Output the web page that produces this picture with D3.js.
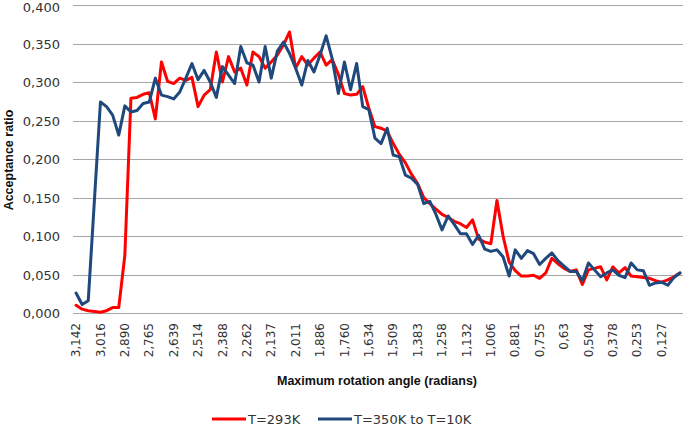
<!DOCTYPE html>
<html><head><meta charset="utf-8">
<script src="https://cdn.jsdelivr.net/npm/d3@7"></script>
<style>body{margin:0;background:#fff}svg{display:block}</style>
</head><body><svg id="c" width="685" height="428"></svg>
<script>
const categories = ["3,142","3,110","3,079","3,047","3,016","2,985","2,953","2,922","2,890","2,859",
"2,827","2,796","2,765","2,733","2,702","2,670","2,639","2,607","2,576","2,545",
"2,514","2,482","2,450","2,419","2,388","2,356","2,325","2,293","2,262","2,231",
"2,199","2,168","2,137","2,105","2,073","2,042","2,011","1,979","1,948","1,916",
"1,886","1,854","1,822","1,791","1,760","1,728","1,696","1,665","1,634","1,602",
"1,571","1,539","1,509","1,477","1,445","1,414","1,383","1,351","1,319","1,288",
"1,258","1,225","1,194","1,162","1,132","1,100","1,068","1,037","1,006","0,974",
"0,942","0,911","0,881","0,848","0,817","0,785","0,755","0,723","0,691","0,660",
"0,63","0,597","0,565","0,534","0,504","0,471","0,440","0,408","0,378","0,346",
"0,314","0,283","0,253","0,220","0,188","0,157","0,127","0,094","0,063","0,031"];

const seriesNames = ["T=293K", "T=350K to T=10K"];
const seriesColors = ["#ff0000", "#1f497d"];

const t293 = [0.010,0.005,0.003,0.002,0.001,0.003,0.007,0.007,0.075,0.279,
0.280,0.284,0.286,0.252,0.326,0.301,0.298,0.305,0.302,0.306,
0.268,0.283,0.290,0.339,0.300,0.333,0.313,0.318,0.296,0.339,
0.333,0.318,0.326,0.335,0.348,0.365,0.318,0.333,0.322,0.331,
0.339,0.322,0.329,0.310,0.285,0.283,0.284,0.294,0.266,0.242,
0.240,0.236,0.220,0.206,0.195,0.180,0.168,0.150,0.142,0.135,
0.128,0.124,0.119,0.116,0.111,0.121,0.096,0.092,0.090,0.146,
0.100,0.066,0.055,0.048,0.048,0.049,0.045,0.052,0.071,0.064,
0.058,0.054,0.056,0.037,0.056,0.058,0.060,0.043,0.060,0.052,
0.059,0.048,0.047,0.046,0.045,0.042,0.040,0.043,0.047,0.052];

const t350to10 = [0.026,0.011,0.016,0.145,0.274,0.268,0.257,0.231,0.269,0.261,
0.263,0.272,0.274,0.305,0.283,0.281,0.278,0.287,0.305,0.324,
0.303,0.315,0.300,0.280,0.320,0.309,0.298,0.346,0.325,0.322,
0.300,0.346,0.305,0.340,0.352,0.337,0.318,0.296,0.328,0.313,
0.335,0.360,0.330,0.285,0.326,0.290,0.324,0.268,0.264,0.227,
0.220,0.240,0.205,0.203,0.179,0.175,0.167,0.142,0.145,0.128,
0.108,0.126,0.115,0.103,0.103,0.089,0.101,0.083,0.080,0.082,
0.073,0.048,0.082,0.071,0.081,0.077,0.063,0.071,0.078,0.068,
0.061,0.054,0.054,0.042,0.065,0.056,0.047,0.052,0.056,0.049,
0.046,0.065,0.056,0.055,0.036,0.039,0.040,0.036,0.046,0.052];

const yTicks = [0, 0.05, 0.10, 0.15, 0.20, 0.25, 0.30, 0.35, 0.40];
const xLabelEvery = 4;

const svg = d3.select("#c");
const pLeft = 73, pRight = 683, pTop = 5, pBottom = 313;
const x = d3.scaleBand().domain(categories).range([pLeft, pRight]);
const y = d3.scaleLinear().domain([0, 0.4]).range([pBottom, pTop]);
const fmt = d => d3.format(".3f")(d).replace(".", ",");

// gridlines
svg.append("g").selectAll("line").data(yTicks).join("line")
  .attr("x1", pLeft).attr("x2", pRight)
  .attr("y1", d => Math.round(y(d)) + 0.5).attr("y2", d => Math.round(y(d)) + 0.5)
  .attr("stroke", "#a6a6a6").attr("stroke-width", 1.2);

// y axis
const ya = svg.append("g").attr("transform", `translate(${pLeft},0)`)
  .call(d3.axisLeft(y).tickValues(yTicks).tickFormat(fmt).tickSize(0).tickPadding(13));
ya.select(".domain").remove();
ya.selectAll("text").attr("font-family", "DejaVu Sans").attr("font-size", "13px")
  .attr("fill", "#333").attr("dy", d => d === 0.4 ? "0.5em" : "0.36em");

// x axis
const xa = svg.append("g").attr("transform", `translate(0,${pBottom})`)
  .call(d3.axisBottom(x).tickValues(categories.filter((d, i) => i % xLabelEvery === 0)).tickSize(0));
xa.select(".domain").remove();
xa.selectAll("text")
  .attr("font-family", "DejaVu Sans").attr("font-size", "12px").attr("fill", "#333")
  .attr("text-anchor", "end").attr("y", 0).attr("dy", "0.35em")
  .attr("transform", "translate(0,10) rotate(-90)");

// lines
const line = d3.line().x((d, i) => x(categories[i]) + x.bandwidth() / 2).y(d => y(d));
[t293, t350to10].forEach((s, k) => {
  svg.append("path").datum(s).attr("d", line)
    .attr("fill", "none").attr("stroke", seriesColors[k]).attr("stroke-width", 3)
    .attr("stroke-linejoin", "round").attr("stroke-linecap", "round");
});

// axis titles
svg.append("text").attr("transform", "translate(13,160) rotate(-90)")
  .attr("text-anchor", "middle").attr("font-family", "Liberation Sans").attr("font-weight", "bold")
  .attr("font-size", "12.5px").attr("fill", "#111").text("Acceptance ratio");
svg.append("text").attr("x", 377).attr("y", 385)
  .attr("text-anchor", "middle").attr("font-family", "Liberation Sans").attr("font-weight", "bold")
  .attr("font-size", "12.5px").attr("fill", "#111").text("Maximum rotation angle (radians)");

// legend
const legX = [212, 318];
const lg = svg.append("g");
seriesNames.forEach((n, k) => {
  lg.append("line").attr("x1", legX[k]).attr("x2", legX[k] + 34).attr("y1", 419).attr("y2", 419)
    .attr("stroke", seriesColors[k]).attr("stroke-width", 3);
  lg.append("text").attr("x", legX[k] + 36).attr("y", 419).attr("dy", "0.35em")
    .attr("font-family", "DejaVu Sans").attr("font-size", "13px").attr("fill", "#333").text(n);
});
</script></body></html>
